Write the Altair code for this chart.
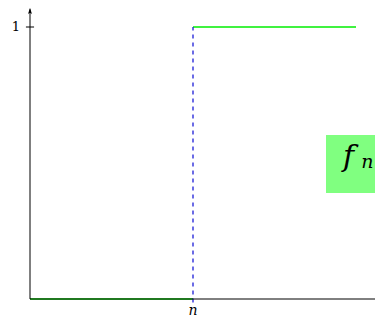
import altair as alt
import pandas as pd

# data
step_at = [1.0]            # position of the jump (n)
low_x = [0.0, 1.0]          # f_n = 0 for x < n
low_y = [0.0, 0.0]
high_x = [1.0, 2.0]         # f_n = 1 for x >= n
high_y = [1.0, 1.0]
y_ticks = [1.0]
y_tick_labels = ["1"]
x_tick_labels = ["n"]
series_label = "f"
series_sub = "n"

XMAX = 345 / 163
YMAX = 291 / 272
xs = alt.Scale(domain=[0, XMAX], nice=False, zero=False)
ys = alt.Scale(domain=[0, YMAX], nice=False, zero=False)

def X(f="x"):
    return alt.X(f"{f}:Q", scale=xs, axis=None)

def Y(f="y"):
    return alt.Y(f"{f}:Q", scale=ys, axis=None)

# axes lines
axes_df = pd.DataFrame({"x": [0.0, 0.0], "x2": [0.0, XMAX], "y": [0.0, 0.0], "y2": [YMAX - 0.005, 0.0]})
axes = alt.Chart(axes_df).mark_rule(color="black", strokeWidth=1).encode(
    x=X(), x2="x2:Q", y=Y(), y2="y2:Q")

arrow = alt.Chart(pd.DataFrame({"x": [0.0], "y": [YMAX - 0.013]})).mark_point(
    shape="M0,-1 L-0.55,0.7 Q0,0.15 0.55,0.7 Z", filled=True, color="black", size=55, opacity=1
).encode(x=X(), y=Y())

# y tick
ytick_df = pd.DataFrame({"x": [-0.025], "x2": [0.025], "y": y_ticks, "lab": y_tick_labels})
ytick = alt.Chart(ytick_df).mark_rule(color="black", strokeWidth=1).encode(
    x=X(), x2="x2:Q", y=Y())
ylab = alt.Chart(ytick_df).mark_text(
    font="DejaVu Serif", fontSize=13, align="right", baseline="middle", dx=-6, color="black"
).encode(x=X(), y=Y(), text="lab:N")

# green step pieces
seg_df = pd.DataFrame({
    "x": low_x + high_x,
    "y": low_y + high_y,
    "seg": ["low", "low", "high", "high"],
})
green = alt.Chart(seg_df).mark_line(color="#00ee00", strokeWidth=1.3).encode(
    x=X(), y=Y(), detail="seg:N")

# dashed vertical at n
dash_df = pd.DataFrame({"x": step_at, "y": [-0.013], "y2": [1.0], "lab": x_tick_labels})
dashed = alt.Chart(dash_df).mark_rule(color="#1c1cd8", strokeWidth=1.3, strokeDash=[4, 4]).encode(
    x=X(), y=Y(), y2="y2:Q")
xlab = alt.Chart(dash_df).mark_text(
    font="DejaVu Serif", fontStyle="italic", fontSize=14, align="center", baseline="alphabetic",
    color="black"
).encode(x=X(), y=alt.value(307), text="lab:N")

# label box
box_df = pd.DataFrame({"x": [296 / 163], "x2": [XMAX], "y": [0.39], "y2": [0.603]})
box = alt.Chart(box_df).mark_rect(color="#80ff80").encode(x=X(), x2="x2:Q", y=Y(), y2="y2:Q")
f_txt = alt.Chart(pd.DataFrame({"x": [1.955], "y": [0.49], "t": [series_label]})).mark_text(
    font="DejaVu Serif", fontStyle="italic", fontSize=30, align="center", baseline="alphabetic",
    color="black").encode(x=X(), y=Y(), text="t:N")
n_txt = alt.Chart(pd.DataFrame({"x": [2.07], "y": [0.482], "t": [series_sub]})).mark_text(
    font="DejaVu Serif", fontStyle="italic", fontSize=19, align="center", baseline="alphabetic",
    color="black").encode(x=X(), y=Y(), text="t:N")

chart = alt.layer(box, f_txt, n_txt, green, dashed, axes, arrow, ytick, ylab, xlab).properties(
    width=345, height=291,
    autosize=alt.AutoSizeParams(type="none"),
    padding={"left": 22, "top": 0, "right": 0, "bottom": 19},
).configure_view(stroke=None)

chart.save("out.html", embed_options={"renderer": "svg", "actions": False})
